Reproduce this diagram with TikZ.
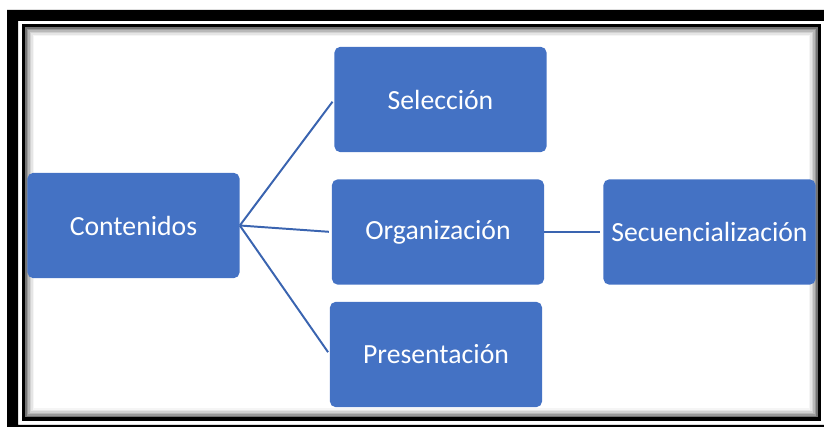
\documentclass[tikz,border=0pt]{standalone}
\usepackage{fontspec}
\setmainfont{Carlito}
\usetikzlibrary{positioning}
\definecolor{boxblue}{RGB}{68,114,196}
\definecolor{lineblue}{RGB}{58,100,176}

\tikzset{
    conbox/.style={fill=boxblue, rounded corners=4pt, minimum width=5.3cm, minimum height=2.63cm,
        text=white, inner sep=2pt, font=\fontsize{19.7}{24}\selectfont},
    conline/.style={lineblue, line width=1.4pt, shorten >=2pt}
}

\begin{document}
\begin{tikzpicture}[x=0.025cm, y=0.025cm]
        \useasboundingbox (0,0) rectangle (824,427);

        % Marco
        \fill[black, even odd rule] (7,0) rectangle (824,417) (18,2) rectangle (824,406);
        \draw[line width=0.0875cm] (23.5,8) rectangle (819.5,401.5);
        \foreach \i/\g in {1/55,2/40,3/28,4/18,5/10,6/4}
            \draw[black!\g, line width=0.04cm] ({24.5+1.5*\i},{9+1.5*\i}) rectangle ({818.5-1.5*\i},{400.5-1.5*\i});

        % Cajas
        \node[conbox] (cont) at (133.5,201.5) {Contenidos};
        \node[conbox] (sel) at (440.5,327.5) {Selección};
        \node[conbox] (org) at (438,195) {Organización};
        \node[conbox] (pres) at (436,72.5) {Presentación};
        \node[conbox] (sec) at (709.5,195) {Secuencialización};

        % Lineas
        \draw[conline] (cont.east) -- (sel.west);
        \draw[conline] (cont.east) -- (org.west);
        \draw[conline] (cont.east) -- (pres.west);
        \draw[conline] (org.east) -- (sec.west);

    \end{tikzpicture}
\end{document}
